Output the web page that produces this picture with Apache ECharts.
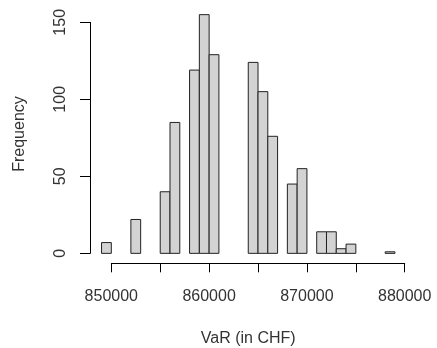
<!DOCTYPE html>
<html>
<head>
<meta charset="utf-8">
<script src="https://cdn.jsdelivr.net/npm/echarts@6/dist/echarts.min.js"></script>
<style>
html,body{margin:0;padding:0;background:#fff;}
#chart{width:437px;height:348px;}
</style>
</head>
<body>
<div id="chart"></div>
<script>
// Histogram bins (lower edge, in CHF) and their frequencies
const binStarts = [849000, 852000, 855000, 856000, 858000, 859000, 860000, 864000, 865000, 866000, 868000, 869000, 871000, 872000, 873000, 874000, 878000];
const binWidth = 1000;
const counts = [7, 22, 40, 85, 119, 155, 129, 124, 105, 76, 45, 55, 14, 14, 3, 6, 1];
const xTicks = [850000, 860000, 870000, 880000];
const yTicks = [0, 50, 100, 150];

const data = binStarts.map((s, i) => [s, s + binWidth, counts[i]]);
const FONT = 'Liberation Sans, Arial, sans-serif';
const TXT = '#333';
const hidden = {axisLine: {show: false, onZero: false}, axisTick: {show: false}, axisLabel: {show: false}, splitLine: {show: false}};

const chart = echarts.init(document.getElementById('chart'), null, {renderer: 'canvas'});
chart.setOption({
  animation: false,
  backgroundColor: '#fff',
  grid: [
    // data region
    {left: 89.8, right: 30.3, top: 5.1, bottom: 85.1, containLabel: false, outerBoundsMode: 'none'},
    // y axis frame (0..150)
    {left: 90, width: 316.7, top: 22.3, height: 231, containLabel: false, outerBoundsMode: 'none'},
    // x axis frame (850000..880000)
    {left: 111.3, width: 293.4, top: 22.3, height: 241, containLabel: false, outerBoundsMode: 'none'}
  ],
  xAxis: [
    Object.assign({
      gridIndex: 0, type: 'value', min: 847800, max: 880200,
      name: 'VaR (in CHF)', nameLocation: 'middle', nameGap: 68,
      nameTextStyle: {fontFamily: FONT, fontSize: 16, color: TXT}
    }, hidden),
    Object.assign({gridIndex: 1, type: 'value', min: 0, max: 1}, hidden),
    {
      gridIndex: 2, type: 'value', min: xTicks[0], max: xTicks[xTicks.length - 1], interval: 5000,
      axisLine: {show: true, onZero: false, lineStyle: {color: '#000', width: 1}},
      axisTick: {show: true, length: 9, lineStyle: {color: '#000', width: 1}},
      axisLabel: {
        show: true, margin: 25, fontFamily: FONT, fontSize: 16, color: TXT,
        formatter: v => xTicks.indexOf(v) >= 0 ? String(v) : ''
      },
      splitLine: {show: false}
    }
  ],
  yAxis: [
    Object.assign({
      gridIndex: 0, type: 'value', min: -6.2, max: 161.2,
      name: 'Frequency', nameLocation: 'middle', nameGap: 62,
      nameTextStyle: {fontFamily: FONT, fontSize: 16, color: TXT}
    }, hidden),
    {
      gridIndex: 1, type: 'value', min: yTicks[0], max: yTicks[yTicks.length - 1], interval: 50,
      axisLine: {show: true, onZero: false, lineStyle: {color: '#000', width: 1}},
      axisTick: {show: true, length: 10, lineStyle: {color: '#000', width: 1}},
      axisLabel: {show: true, rotate: 90, margin: 21, fontFamily: FONT, fontSize: 16, color: TXT},
      splitLine: {show: false}
    },
    Object.assign({gridIndex: 2, type: 'value', min: 0, max: 1}, hidden)
  ],
  series: [{
    type: 'custom',
    xAxisIndex: 0, yAxisIndex: 0,
    data: data,
    renderItem: function (params, api) {
      const p0 = api.coord([api.value(0), api.value(2)]);
      const p1 = api.coord([api.value(1), 0]);
      return {
        type: 'rect',
        shape: {x: p0[0], y: p0[1], width: p1[0] - p0[0], height: p1[1] - p0[1]},
        style: {fill: '#d3d3d3', stroke: '#222', lineWidth: 1}
      };
    }
  }]
});
</script>
</body>
</html>
